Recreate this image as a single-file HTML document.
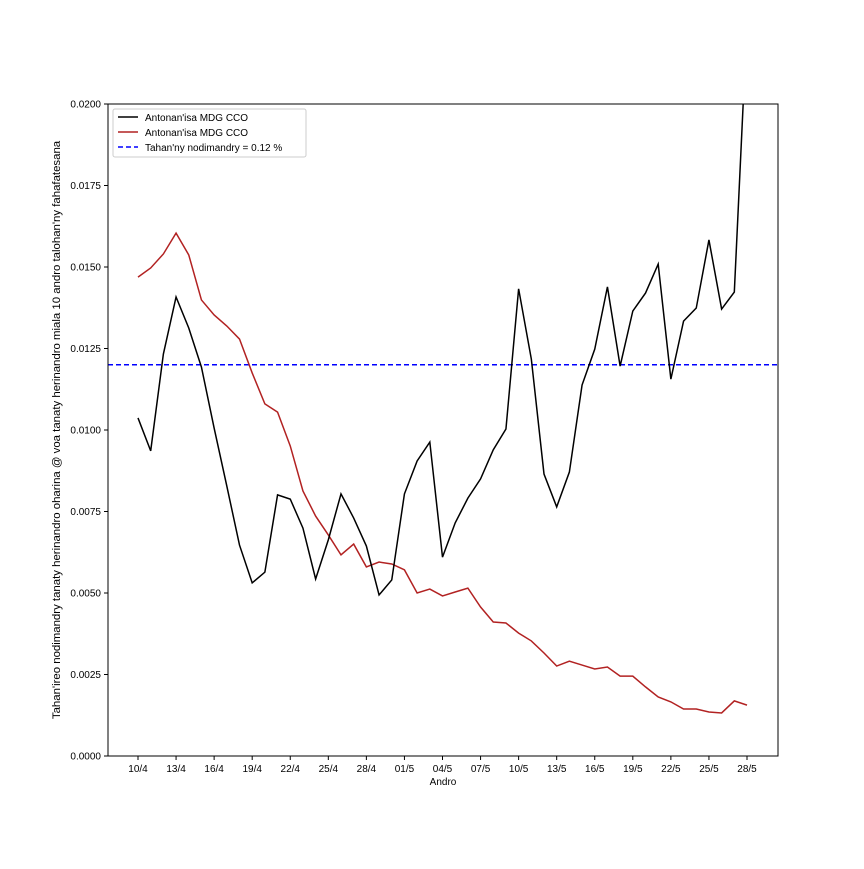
<!DOCTYPE html>
<html><head><meta charset="utf-8"><style>
body{margin:0;background:#fff;}
svg{font-family:"Liberation Sans","DejaVu Sans",sans-serif;}
</style></head><body>
<svg id="chart" width="864" height="864" viewBox="0 0 864 864" xmlns="http://www.w3.org/2000/svg">
<defs><clipPath id="clip"><rect x="108" y="104" width="670" height="652"/></clipPath></defs>
<rect x="0" y="0" width="864" height="864" fill="#fff"/>
<g id="marks" clip-path="url(#clip)"></g>
<rect x="108" y="104" width="670" height="652" fill="none" stroke="#000" stroke-width="1"/>
<g id="xticks"></g><g id="yticks"></g>
<text x="443" y="785" font-size="10" text-anchor="middle">Andro</text>
<text transform="translate(60,430) rotate(-90)" font-size="11.4" text-anchor="middle">Tahan'ireo nodimandry tanaty herinandro oharina @ voa tanaty herinandro miala 10 andro talohan'ny fahafatesana</text>
<g>
<rect x="113" y="109" width="193" height="48" fill="#fff" stroke="#ccc" rx="2"/>
<g><line x1="118" y1="117" x2="138" y2="117" stroke="#000" stroke-width="1.5"/><text x="145" y="121" font-size="10">Antonan'isa MDG CCO</text></g>
<g><line x1="118" y1="132" x2="138" y2="132" stroke="#b22222" stroke-width="1.5"/><text x="145" y="136" font-size="10">Antonan'isa MDG CCO</text></g>
<g><line x1="118" y1="147" x2="138" y2="147" stroke="#0000ff" stroke-width="1.5" stroke-dasharray="5,3"/><text x="145" y="151" font-size="10">Tahan'ny nodimandry = 0.12 %</text></g>
</g>
</svg>
<script>
const dates=["10/4","11/4","12/4","13/4","14/4","15/4","16/4","17/4","18/4","19/4","20/4","21/4","22/4","23/4","24/4","25/4","26/4","27/4","28/4","29/4","30/4","01/5","02/5","03/5","04/5","05/5","06/5","07/5","08/5","09/5","10/5","11/5","12/5","13/5","14/5","15/5","16/5","17/5","18/5","19/5","20/5","21/5","22/5","23/5","24/5","25/5","26/5","27/5","28/5"];
const blackValues=[0.01037,0.00936,0.01233,0.01408,0.01313,0.01193,0.01006,0.00828,0.00647,0.00531,0.00564,0.00801,0.00788,0.00699,0.00543,0.00663,0.00804,0.0073,0.00644,0.00494,0.0054,0.00804,0.00905,0.00963,0.0061,0.00715,0.00791,0.0085,0.00939,0.01003,0.01433,0.01218,0.00865,0.00764,0.00871,0.01138,0.01248,0.01439,0.01196,0.01365,0.0142,0.01509,0.01156,0.01334,0.01374,0.01583,0.01371,0.01423,0.0225];
const redValues=[0.01469,0.01497,0.0154,0.01604,0.01537,0.01399,0.01353,0.01319,0.01279,0.01175,0.0108,0.01055,0.00951,0.00813,0.00736,0.00678,0.00617,0.0065,0.0058,0.00595,0.00589,0.00571,0.005,0.00512,0.00491,0.00503,0.00515,0.00457,0.00411,0.00408,0.00377,0.00353,0.00316,0.00276,0.00291,0.00279,0.00267,0.00273,0.00245,0.00245,0.00212,0.00181,0.00166,0.00144,0.00144,0.00135,0.00132,0.00169,0.00156];
const threshold=0.012;
const yTickValues=[0,0.0025,0.005,0.0075,0.01,0.0125,0.015,0.0175,0.02];
const xTickEvery=3;
const NS="http://www.w3.org/2000/svg";
const X0=138,DX=(747-138)/48,YB=756,YT=104,YMAX=0.02;
function xs(i){return X0+DX*i;}
function ys(v){return YB-(v/YMAX)*(YB-YT);}
function mk(tag,attrs,parent){const e=document.createElementNS(NS,tag);for(const k in attrs)e.setAttribute(k,attrs[k]);parent.appendChild(e);return e;}
const marks=document.getElementById('marks');
const th=mk('line',{x1:108,x2:778,y1:ys(threshold),y2:ys(threshold),stroke:'#0000ff','stroke-width':1.5,'stroke-dasharray':'5,3'},marks);


const rl=mk('polyline',{points:redValues.map((v,i)=>xs(i)+','+ys(v)).join(' '),fill:'none',stroke:'#b22222','stroke-width':1.5},marks);


const bl=mk('polyline',{points:blackValues.map((v,i)=>xs(i)+','+ys(v)).join(' '),fill:'none',stroke:'#000','stroke-width':1.5},marks);


const xt=document.getElementById('xticks');
dates.forEach((d,i)=>{if(i%xTickEvery)return;
const g=mk('g',{},xt);


mk('line',{x1:xs(i),x2:xs(i),y1:756,y2:760,stroke:'#000'},g);
const t=mk('text',{x:xs(i),y:772,'font-size':10,'text-anchor':'middle'},g);t.textContent=d;});
const yt=document.getElementById('yticks');
yTickValues.forEach(v=>{const g=mk('g',{},yt);


mk('line',{x1:104,x2:108,y1:ys(v),y2:ys(v),stroke:'#000'},g);
const t=mk('text',{x:101,y:ys(v)+3.5,'font-size':10,'text-anchor':'end'},g);t.textContent=v.toFixed(4);});
</script>
</body></html>
